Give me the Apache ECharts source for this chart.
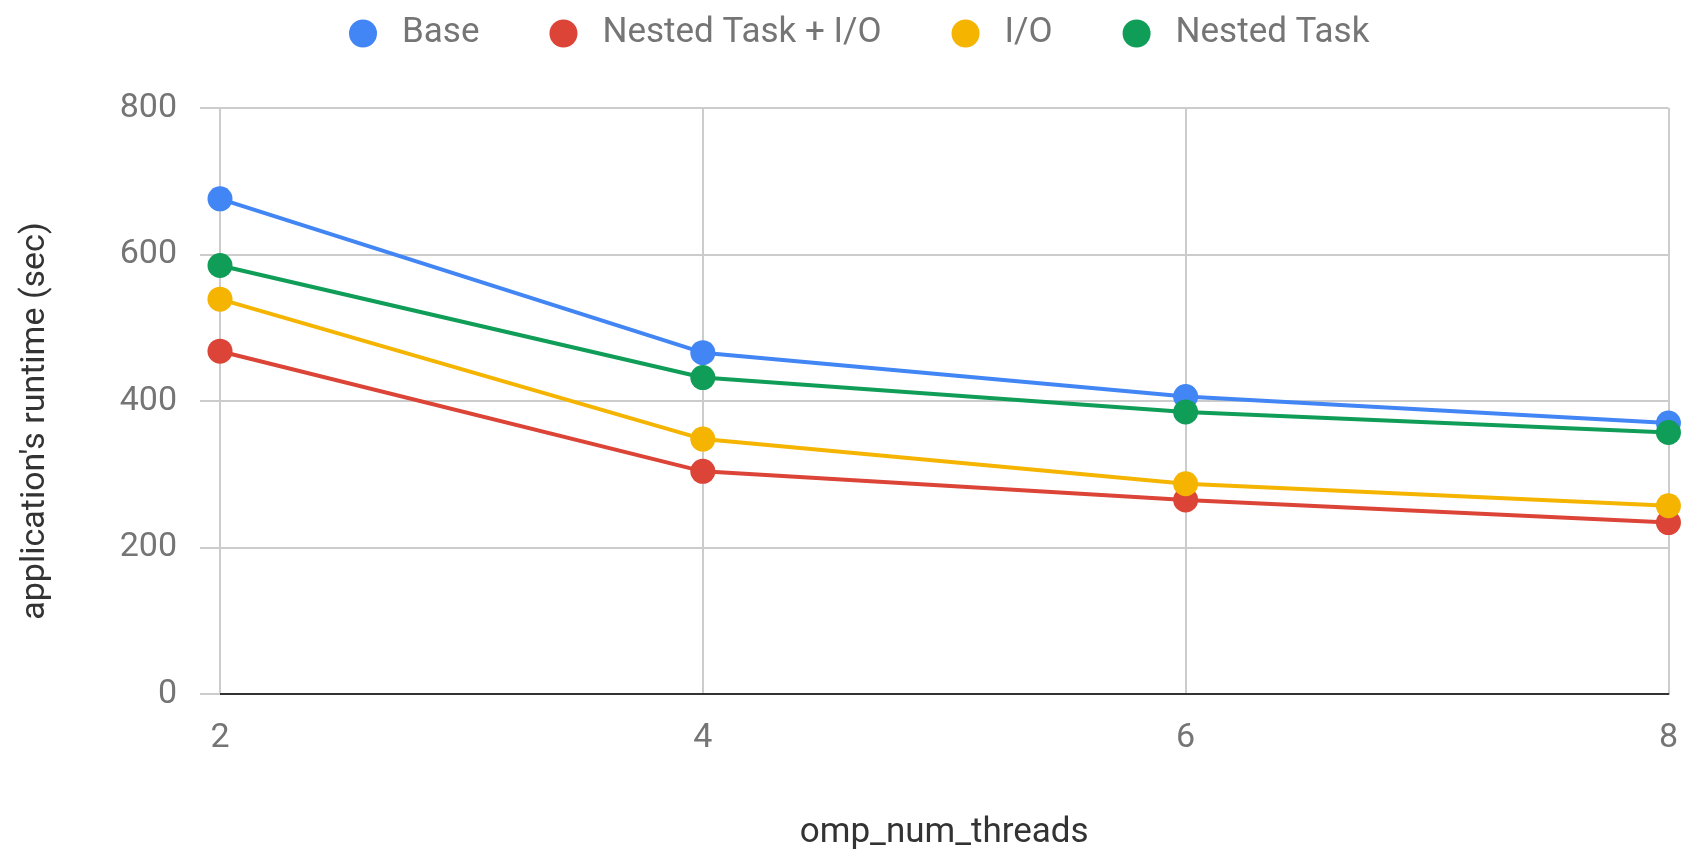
<!DOCTYPE html>
<html>
<head>
<meta charset="utf-8">
<script src="https://cdn.jsdelivr.net/npm/echarts@6/dist/echarts.min.js"></script>
<style>
    html, body { margin: 0; padding: 0; background: #fff; }
    #chart { width: 1681px; height: 856px; }
</style>
</head>
<body>
<div id="chart"></div>
<script>
// values
const threads = ['2', '4', '6', '8'];
const baseRuntime = [676, 466, 406, 370];
const nestedIoRuntime = [468, 304, 265, 234];
const ioRuntime = [539, 348, 287, 257];
const nestedRuntime = [585, 432, 385, 357];
const yTicks = [0, 200, 400, 600, 800];

const labelColor = '#757575';
const fontFamily = 'Roboto, sans-serif';

function lineSeries(name, color, data) {
    return {
        name: name,
        type: 'line',
        data: data,
        symbol: 'circle',
        symbolSize: 25,
        itemStyle: { color: color },
        lineStyle: { color: color, width: 4 },
        emphasis: { disabled: true },
    };
}

const option = {
    animation: false,
    textStyle: { fontFamily: fontFamily },
    legend: {
        top: 11,
        left: 344,
        icon: 'circle',
        itemWidth: 28,
        itemHeight: 28,
        itemGap: 70,
        textStyle: {
            color: labelColor,
            fontSize: 35,
            fontFamily: fontFamily,
            padding: [0, 0, 0, 20],
        },
    },
    grid: {
        left: 220,
        right: 6,
        top: 108,
        bottom: 159,
    },
    xAxis: {
        type: 'category',
        data: threads,
        boundaryGap: false,
        name: 'omp_num_threads',
        nameLocation: 'middle',
        nameGap: 122,
        nameTextStyle: { color: '#333', fontSize: 35 },
        axisLine: { lineStyle: { color: '#333', width: 2 } },
        axisTick: { show: false },
        axisLabel: { color: labelColor, fontSize: 34, margin: 27 },
        splitLine: { show: true, lineStyle: { color: '#cccccc', width: 2 } },
    },
    yAxis: {
        type: 'value',
        min: yTicks[0],
        max: yTicks[yTicks.length - 1],
        interval: yTicks[1] - yTicks[0],
        name: "application's runtime (sec)",
        nameLocation: 'middle',
        nameGap: 168,
        nameTextStyle: { color: '#333', fontSize: 34, padding: [0, 0, 0, -40] },
        axisLine: { show: false },
        axisTick: { show: true, length: 20, lineStyle: { color: '#cccccc', width: 2 } },
        axisLabel: { color: labelColor, fontSize: 34, margin: 43 },
        splitLine: { lineStyle: { color: '#cccccc', width: 2 } },
    },
    series: [
        lineSeries('Base', '#4285F4', baseRuntime),
        lineSeries('Nested Task + I/O', '#DB4437', nestedIoRuntime),
        lineSeries('I/O', '#F4B400', ioRuntime),
        lineSeries('Nested Task', '#0F9D58', nestedRuntime),
    ],
};

const myChart = echarts.init(document.getElementById('chart'));
myChart.setOption(option);
</script>
</body>
</html>
